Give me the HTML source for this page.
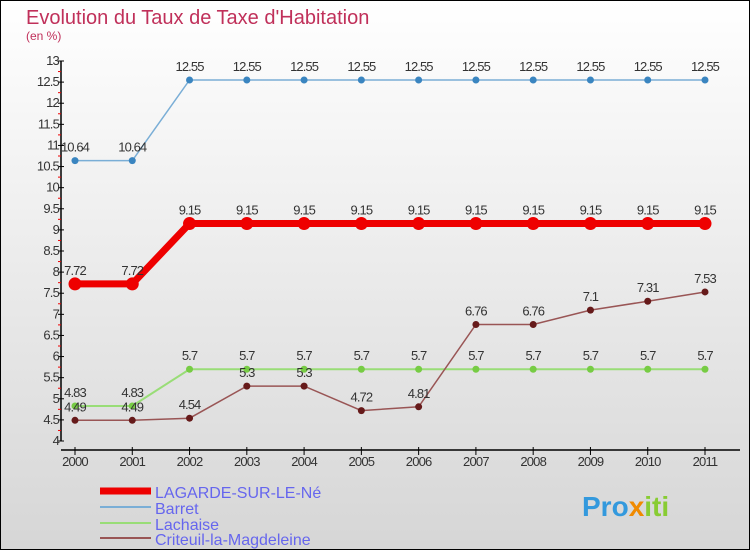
<!DOCTYPE html>
<html><head><meta charset="utf-8"><style>
body{margin:0;padding:0}
#c{width:750px;height:550px;position:relative;box-sizing:border-box;border:1px solid #000;background:linear-gradient(#ffffff,#d6d6d6);overflow:hidden;font-family:"Liberation Sans",sans-serif}
</style></head><body>
<div id="c">
<svg id="s" width="750" height="550" style="position:absolute;left:-1px;top:-1px">
<text x="26" y="24" font-size="20" fill="#c0305a">Evolution du Taux de Taxe d'Habitation</text>
<text x="26" y="40" font-size="12" fill="#c0305a">(en %)</text>
<g id="axes"></g><g id="series"></g>
<g>
<line x1="100" y1="491" x2="151" y2="491" stroke="#ee0000" stroke-width="7"/>
<text x="155" y="498" font-size="16" fill="#6666ee">LAGARDE-SUR-LE-Né</text>
<line x1="100" y1="507" x2="151" y2="507" stroke="#7aaed6" stroke-width="2"/>
<text x="155" y="514" font-size="16" fill="#6666ee">Barret</text>
<line x1="100" y1="523" x2="151" y2="523" stroke="#99dd77" stroke-width="2"/>
<text x="155" y="530" font-size="16" fill="#6666ee">Lachaise</text>
<line x1="100" y1="538" x2="151" y2="538" stroke="#995555" stroke-width="2"/>
<text x="155" y="545" font-size="16" fill="#6666ee">Criteuil-la-Magdeleine</text>
</g>
<text x="582" y="516" font-size="28" font-weight="bold" fill="#3399dd">Pro<tspan fill="#f08a00">x</tspan><tspan fill="#88cc33">iti</tspan></text>
</svg>
</div>
<script>
const years=["2000","2001","2002","2003","2004","2005","2006","2007","2008","2009","2010","2011"];
const lagarde=[7.72,7.72,9.15,9.15,9.15,9.15,9.15,9.15,9.15,9.15,9.15,9.15];
const barret=[10.64,10.64,12.55,12.55,12.55,12.55,12.55,12.55,12.55,12.55,12.55,12.55];
const lachaise=[4.83,4.83,5.7,5.7,5.7,5.7,5.7,5.7,5.7,5.7,5.7,5.7];
const criteuil=[4.49,4.49,4.54,5.3,5.3,4.72,4.81,6.76,6.76,7.1,7.31,7.53];
const yTicks=["4","4.5","5","5.5","6","6.5","7","7.5","8","8.5","9","9.5","10","10.5","11","11.5","12","12.5","13"];
const NS="http://www.w3.org/2000/svg";
const X=i=>75+i*(630/11);
const Y=v=>441-(v-4)*(380/9);
function mk(t,a,p){const e=document.createElementNS(NS,t);for(const k in a)e.setAttribute(k,a[k]);p.appendChild(e);return e;}
const ax=document.getElementById('axes');
let l=mk('line',{x1:61,y1:61,x2:61,y2:441,stroke:'#000','stroke-width':1.5},ax);

l=mk('line',{x1:61,y1:450,x2:740,y2:450,stroke:'#000','stroke-width':1.5},ax);

yTicks.forEach(t=>{const v=parseFloat(t),y=Y(v);
 mk('line',{x1:58,y1:y,x2:64,y2:y,stroke:'#000'},ax);
 mk('line',{x1:58,y1:Y(v+0.25),x2:61,y2:Y(v+0.25),stroke:v<13?'#e00':'none'},ax);
 const tx=mk('text',{x:59,y:y+4,'font-size':13,fill:'#333','text-anchor':'end','letter-spacing':'-0.8'},ax);tx.textContent=t;
 });
years.forEach((yr,i)=>{const x=X(i);mk('line',{x1:x,y1:447,x2:x,y2:455,stroke:'#000'},ax);
 const tx=mk('text',{x:x,y:466,'font-size':13,fill:'#333','text-anchor':'middle','letter-spacing':'-0.8'},ax);tx.textContent=yr;
 });
const sg=document.getElementById('series');
function series(name,d,col,w,r,lab){
 const g=mk('g',{},sg);
 const p=mk('polyline',{points:d.map((v,i)=>X(i)+','+Y(v)).join(' '),fill:'none',stroke:col,'stroke-width':w},g);
 
 d.forEach((v,i)=>{const c=mk('circle',{cx:X(i),cy:Y(v),r:r,fill:lab},g);
  
  const t=mk('text',{x:X(i),y:Y(v)-9,'font-size':13,fill:'#333','text-anchor':'middle','letter-spacing':'-0.9'},g);t.textContent=String(v);
  });
}
series('barret',barret,'#7aaed6',1.5,3.5,'#3a85c0');
series('lachaise',lachaise,'#99dd77',2,3.5,'#77cc44');
series('criteuil',criteuil,'#995555',1.5,3.5,'#661a1a');
series('lagarde',lagarde,'#ee0000',7,6.5,'#ee0000');
</script>
</body></html>
